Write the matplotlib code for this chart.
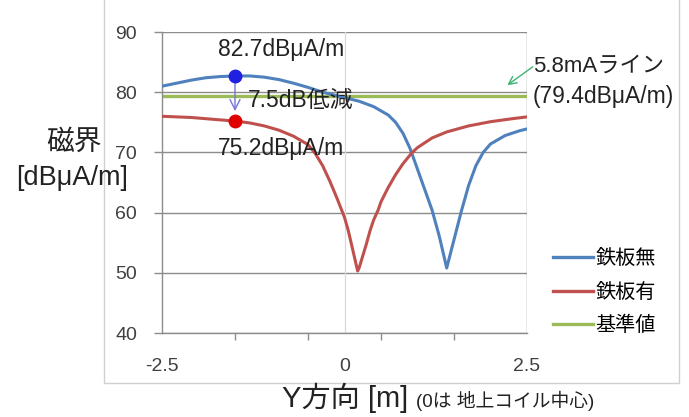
import matplotlib
matplotlib.use("Agg")
import matplotlib.pyplot as plt
from matplotlib.patches import Rectangle
from matplotlib.lines import Line2D

# Latin glyphs from Liberation Sans, Japanese falls through to Noto CJK
plt.rcParams['font.family'] = ['Liberation Sans', 'Noto Sans CJK JP']

# ---- data ----
x_blue = [-2.5, -2.3, -2.1, -1.9, -1.7, -1.5, -1.3, -1.1, -0.9, -0.7, -0.5, -0.3,
          -0.1, 0.0, 0.2, 0.4, 0.6, 0.7, 0.8, 0.9, 1.0, 1.1, 1.2, 1.3, 1.4,
          1.5, 1.6, 1.7, 1.8, 1.9, 2.0, 2.2, 2.4, 2.5]
y_blue = [81.0, 81.5, 82.0, 82.4, 82.6, 82.7, 82.7, 82.5, 82.1, 81.5, 80.8, 80.0,
          79.4, 79.1, 78.5, 77.6, 76.2, 75.0, 73.2, 70.6, 67.2, 63.8, 60.4, 56.0, 50.8,
          55.5, 60.2, 64.5, 67.8, 70.0, 71.4, 72.8, 73.6, 73.9]

x_red = [-2.5, -2.3, -2.1, -1.9, -1.7, -1.5, -1.3, -1.1, -0.9, -0.7, -0.5, -0.4,
         -0.3, -0.2, -0.1, 0.0, 0.05, 0.1, 0.18, 0.2, 0.3, 0.35, 0.4, 0.46, 0.5,
         0.6, 0.7, 0.8, 0.92, 1.0, 1.2, 1.4, 1.7, 2.0, 2.3, 2.5]
y_red = [76.0, 75.9, 75.8, 75.6, 75.4, 75.2, 74.9, 74.4, 73.7, 72.7, 71.3, 69.8,
         67.8, 65.2, 62.3, 59.2, 57.1, 54.5, 50.3, 50.8, 54.8, 57.0, 58.8, 60.4, 61.8,
         64.2, 66.3, 68.1, 69.9, 70.8, 72.4, 73.4, 74.4, 75.1, 75.6, 75.9]

ref_level = 79.4          # 5.8mA line
peak_x = -1.5
peak_without = 82.7
peak_with = 75.2

series_labels = ['鉄板無', '鉄板有', '基準値']
x_ticks_labeled = [-2.5, 0, 2.5]
x_ticks_marks = [-2.5, -1.5, -0.5, 0.5, 1.5, 2.5]
y_ticks = [40, 50, 60, 70, 80, 90]

c_blue = '#4F81BD'
c_red = '#C0504D'
c_green = '#9BBB59'
c_grid = '#8C8C8C'
c_text = '#404040'

fig = plt.figure(figsize=(6.89, 4.17), dpi=100)
ax = fig.add_axes([162 / 689, 1 - 333 / 417, 365 / 689, 301 / 417])

# outer chart-area frame (light gray), top edge runs off the image
fig.patches.append(Rectangle((104 / 689, 1 - 383 / 417), 575 / 689, 400 / 417,
                             transform=fig.transFigure, fill=False,
                             edgecolor='#D0D0D0', linewidth=1.0, zorder=0))

ax.set_xlim(-2.5, 2.5)
ax.set_ylim(40, 90)
for y in y_ticks:
    ax.axhline(y, color=c_grid, linewidth=1.0, zorder=1)
ax.axvline(0, color='#D9D9D9', linewidth=0.9, zorder=1)
ax.axvline(2.5, color=c_grid, linewidth=1.0, zorder=1)
for s in ['top', 'right']:
    ax.spines[s].set_visible(False)
for s in ['left', 'bottom']:
    ax.spines[s].set_color(c_grid)
    ax.spines[s].set_linewidth(1.0)

ax.set_yticks(y_ticks)
ax.set_xticks(x_ticks_labeled)
ax.set_xticklabels(['-2.5', '0', '2.5'])
ax.set_xticks(x_ticks_marks, minor=True)
ax.tick_params(axis='x', which='major', length=0, pad=18, labelsize=14, labelcolor=c_text)
ax.tick_params(axis='x', which='minor', length=5, width=1, color=c_grid, direction='out')
ax.tick_params(axis='y', length=6, width=1, color=c_grid, pad=12, labelsize=14,
               labelcolor=c_text)

ax.plot(x_blue, y_blue, color=c_blue, linewidth=2.2, zorder=3)
ax.plot(x_red, y_red, color=c_red, linewidth=2.2, zorder=3)
ax.axhline(ref_level, color=c_green, linewidth=2.4, zorder=2)

# peak markers and the reduction arrow
ax.plot(peak_x, peak_without, 'o', color='#2020E0', markersize=9, zorder=5)
ax.plot(peak_x, peak_with, 'o', color='#E00000', markersize=9, zorder=5)
ax.annotate('', xy=(peak_x, peak_with + 1.2), xytext=(peak_x, peak_without - 0.8),
            arrowprops=dict(arrowstyle='->', color='#7474D8', lw=1.0,
                            mutation_scale=18), zorder=4)
ax.text(peak_x + 0.17, (peak_without + peak_with) / 2 - 0.4, '7.5dB低減',
        fontsize=16.5, color='#222222', va='center', ha='left', zorder=6)
ax.text(peak_x + 0.63, peak_without + 4.4, f'{peak_without}dBμA/m',
        fontsize=16.5, color='#222222', va='center', ha='center', zorder=6)
ax.text(peak_x + 0.63, peak_with - 4.6, f'{peak_with}dBμA/m',
        fontsize=16.5, color='#222222', va='center', ha='center', zorder=6)

# reference line note, outside the plot on the right
ax.annotate('', xy=(2.2, 80.9), xytext=(2.61, 84.5),
            arrowprops=dict(arrowstyle='->', color='#3CB371', lw=1.0, mutation_scale=14),
            annotation_clip=False)
fig.text(533 / 689, 1 - 66 / 417, '5.8mAライン', fontsize=16, color='#222222',
         va='center', ha='left')
fig.text(533 / 689, 1 - 97 / 417, '(79.4dBμA/m)', fontsize=16.5, color='#222222',
         va='center', ha='left')

# legend
handles = [Line2D([], [], color=c, linewidth=2.4) for c in (c_blue, c_red, c_green)]
fig.legend(handles, series_labels, loc='upper left',
           bbox_to_anchor=(553 / 689, 1 - 249 / 417), frameon=False, fontsize=14.5,
           handlelength=2.0, handletextpad=0.1, labelspacing=0.72, borderpad=0,
           borderaxespad=0)

# axis titles
fig.text(74 / 689, 1 - 143 / 417, '磁界', fontsize=20, color='#222222',
         ha='center', va='center')
fig.text(72 / 689, 1 - 178 / 417, '[dBμA/m]', fontsize=19.5, color='#222222',
         ha='center', va='center')
fig.text(282 / 689, 1 - 398 / 417, 'Y方向 [m]', fontsize=21, color='#222222',
         ha='left', va='center')
fig.text(416 / 689, 1 - 401 / 417, '(0は 地上コイル中心)', fontsize=13.5, color='#222222',
         ha='left', va='center')

fig.savefig('out.png', dpi=100)
